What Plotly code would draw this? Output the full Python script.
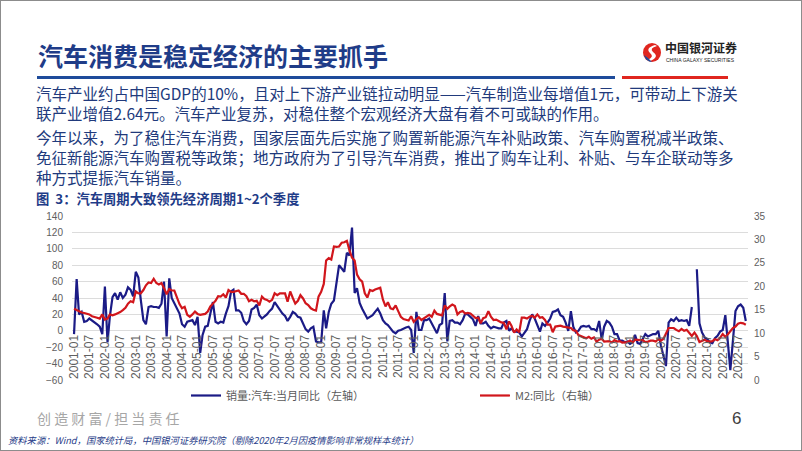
import pandas as pd
import plotly.graph_objects as go

W, H = 802, 451

# ---------------- data ----------------
months = [d.strftime("%Y-%m") for d in pd.date_range("2001-01-01", "2022-10-01", freq="MS")]

# 销量:汽车:当月同比 (%), 2001-01 .. 2022-10  (None = no value)
sales_yoy = [
    -4, 63, 20, 23, 11, 12, 15, 13, 11, 8, 5, -4,          # 2001
    54, -14, 18, 41, 46, 38, 47, 40, 44, 53, 50, 42,       # 2002
    72, 65, 38, 13, 8, 29, 30, 29, 29, 28, 33, 60,         # 2003
    -7, 64, 40, 33, 27, 21, 8, 5, 11, 12, 13, 7,           # 2004
    17, -27, -5, 5, 6, 21, 35, 11, 9, 11, 10, 21,          # 2005
    30, 48, 50, 25, 25, 22, 12, 8, 12, 26, 28, 32,         # 2006
    19, 15, 17, 20, 24, 27, 35, 30, 25, 21, 18, 12,        # 2007
    17, 23, 21, 17, 16, 9, 2, -1, 3, 5, -13, -14,          # 2008
    -14, 25, 3, 23, 33, 37, 60, 80, 76, 72, 95, 92,        # 2009
    126, 46, 52, 34, 27, 21, 15, 17, 19, 23, 27, 21,       # 2010
    13, 9, 7, 3, -1, -3, 0, 1, 3, 4, 5, 1,                 # 2011
    -27, 23, 1, 1, 13, 13, 15, 9, 4, -3, 7, 9,             # 2012
    46, -13, 12, 13, 10, 10, 8, 13, 21, 20, 17, 14,        # 2013
    6, 18, 9, 9, 11, 6, 3, 5, 4, 3, 3, 10,                 # 2014
    12, 0, 3, -1, -1, -2, -7, -3, 2, 12, 20, 15,           # 2015
    8, -1, 9, 6, 10, 15, 23, 24, 26, 19, 17, 10,           # 2016
    0, 24, 5, -2, 0, 5, 6, 5, 6, 2, 2, 0,                  # 2017
    12, -11, 5, 12, 10, 5, -4, -4, -12, -12, -14, -13,     # 2018
    -16, -14, -5, -15, -16, -10, -4, -7, -5, -4, -4, 0,    # 2019
    -18, None, -43, 10, 14, 12, 16, 12, 13, 12, 13, 6,     # 2020
    29, None, 75, 9, -2, -8, -10, -14, -15, -9, -6, -1,    # 2021
    1, 19, -12, -48, -13, 24, 30, 32, 28, 12,              # 2022
]
# sample removed from the sales series (epidemic effect)
excluded_months = ["2020-02"]

# M2:同比 (%), 2001-01 .. 2022-10
m2_yoy = [
    15.2, 14.9, 14.7, 14.4, 14.3, 14.1, 14.0, 13.6, 13.5, 13.3, 13.1, 14.0,
    12.9, 13.1, 14.0, 13.8, 14.0, 14.2, 14.5, 14.9, 15.4, 16.3, 16.8, 16.6,
    18.9, 18.5, 18.5, 19.2, 20.2, 20.8, 20.7, 21.6, 20.7, 20.4, 20.7, 19.6,
    18.3, 19.4, 19.1, 19.1, 17.5, 16.2, 15.3, 15.6, 13.9, 13.5, 14.0, 14.6,
    14.1, 13.9, 14.0, 14.1, 14.6, 15.7, 16.3, 16.9, 17.9, 17.8, 18.3, 17.6,
    19.2, 18.8, 18.8, 18.9, 19.1, 18.4, 18.4, 17.9, 16.8, 17.1, 16.8, 16.9,
    15.9, 17.8, 17.3, 17.1, 16.7, 17.1, 18.5, 18.1, 18.5, 18.5, 18.5, 16.7,
    18.9, 17.5, 16.3, 16.9, 18.1, 17.4, 16.4, 16.0, 15.3, 15.0, 14.8, 17.8,
    18.8, 20.5, 25.5, 26.0, 25.7, 28.5, 28.4, 28.5, 29.3, 29.4, 29.7, 27.7,
    26.1, 25.5, 22.5, 21.5, 21.0, 18.5, 17.6, 19.2, 19.0, 19.3, 19.5, 19.7,
    17.2, 15.7, 16.6, 15.3, 15.1, 15.9, 14.7, 13.5, 13.0, 12.9, 12.7, 13.6,
    12.4, 13.0, 13.4, 12.8, 13.2, 13.6, 13.9, 13.5, 14.8, 14.1, 13.9, 13.8,
    15.9, 15.2, 15.7, 16.1, 15.8, 14.0, 14.5, 14.7, 14.2, 14.3, 14.2, 13.6,
    13.2, 13.3, 12.1, 13.2, 13.4, 14.7, 13.5, 12.8, 12.9, 12.6, 12.3, 12.2,
    10.8, 12.5, 11.6, 10.1, 10.8, 10.2, 13.3, 13.3, 13.1, 13.5, 13.7, 13.3,
    14.0, 13.3, 13.4, 12.8, 11.8, 11.8, 10.2, 11.4, 11.5, 11.6, 11.4, 11.3,
    11.3, 11.1, 10.6, 10.5, 9.6, 9.4, 9.2, 8.9, 9.2, 8.8, 9.1, 8.2,
    8.6, 8.8, 8.2, 8.3, 8.3, 8.0, 8.5, 8.2, 8.3, 8.0, 8.0, 8.1,
    8.4, 8.0, 8.6, 8.5, 8.5, 8.5, 8.1, 8.2, 8.4, 8.4, 8.2, 8.7,
    8.4, 8.8, 10.1, 11.1, 11.1, 11.1, 10.7, 10.4, 10.9, 10.5, 10.7, 10.1,
    9.4, 10.1, 9.4, 8.1, 8.3, 8.6, 8.3, 8.2, 8.3, 8.7, 8.5, 9.0,
    9.8, 9.2, 9.7, 10.5, 11.1, 11.4, 12.0, 12.2, 12.1, 11.8,
]

series_names = ["销量:汽车:当月同比（左轴）", "M2:同比（右轴）"]
left_ticks = [-60, -40, -20, 0, 20, 40, 60, 80, 100, 120, 140]
right_ticks = [0, 5, 10, 15, 20, 25, 30, 35]

slide_title = "汽车消费是稳定经济的主要抓手"
paragraph_1 = [
    "汽车产业约占中国GDP的10%，且对上下游产业链拉动明显——汽车制造业每增值1元，可带动上下游关",
    "联产业增值2.64元。汽车产业复苏，对稳住整个宏观经济大盘有着不可或缺的作用。",
]
paragraph_2 = [
    "今年以来，为了稳住汽车消费，国家层面先后实施了购置新能源汽车补贴政策、汽车购置税减半政策、",
    "免征新能源汽车购置税等政策；地方政府为了引导汽车消费，推出了购车让利、补贴、与车企联动等多",
    "种方式提振汽车销量。",
]
chart_title = "图  3：汽车周期大致领先经济周期1~2个季度"
source_text = "资料来源：Wind，国家统计局，中国银河证券研究院（剔除2020年2月因疫情影响非常规样本统计）"
slogan = "创 造 财 富 / 担 当 责 任"
page_no = "6"

# ---------------- helpers ----------------
def px(x):
    return x / W

def py(y):
    return 1 - y / H

sales_x = [m for m in months if m not in excluded_months]
sales_y = [v for m, v in zip(months, sales_yoy) if m not in excluded_months]

CJK = "Noto Sans CJK SC"
BLUE_LINE = "#1B1B86"
RED_LINE = "#D1161C"
NAVY = "#1F3C88"

fig = go.Figure()
fig.add_trace(go.Scatter(x=sales_x, y=sales_y, name=series_names[0], mode="lines",
                         line=dict(color=BLUE_LINE, width=2.2), connectgaps=False,
                         xaxis="x", yaxis="y"))
fig.add_trace(go.Scatter(x=months, y=m2_yoy, name=series_names[1], mode="lines",
                         line=dict(color=RED_LINE, width=2.2),
                         xaxis="x", yaxis="y2"))

dom_y = [py(380), py(216)]
fig.update_layout(
    template="none",
    width=W, height=H,
    margin=dict(l=0, r=0, t=0, b=0, pad=0),
    paper_bgcolor="white", plot_bgcolor="rgba(0,0,0,0)",
    font=dict(family=CJK, color="#595959"),
    xaxis=dict(
        type="date", domain=[px(72), px(748)],
        range=["2000-12-08", "2022-10-27"],
        tick0="2001-01-01", dtick="M6", tickformat="%Y-%m",
        tickangle=-90, tickfont=dict(size=12, color="#606060", family="Liberation Sans"),
        anchor="free", position=py(331.5),
        showgrid=False, showline=False, zeroline=False, ticks="", automargin=False,
    ),
    yaxis=dict(
        domain=dom_y, range=[-60, 140], tickvals=left_ticks,
        gridcolor="#DCDCDC", gridwidth=1, zeroline=False, showline=False, ticks="",
        tickfont=dict(size=10, color="#606060", family="Liberation Sans"),
        ticklabelstandoff=8, automargin=False,
    ),
    yaxis2=dict(
        domain=dom_y, range=[0, 35], tickvals=right_ticks, overlaying="y", side="right",
        showgrid=False, zeroline=False, showline=False, ticks="",
        tickfont=dict(size=10, color="#606060", family="Liberation Sans"),
        ticklabelstandoff=5, automargin=False,
    ),
    legend=dict(orientation="h", x=px(186), y=py(381), xanchor="left", yanchor="top",
                font=dict(size=11, color="#595959", family=CJK),
                entrywidth=244, entrywidthmode="pixels", bgcolor="rgba(0,0,0,0)"),
    showlegend=True,
)

shapes = [
    # slide frame
    dict(type="rect", xref="paper", yref="paper", x0=0, y0=0, x1=1, y1=1,
         line=dict(color="#8C8C8C", width=2), layer="above"),
    # title underline (blue + red)
    dict(type="line", xref="paper", yref="paper", x0=px(37), x1=px(615), y0=py(77.5), y1=py(77.5),
         line=dict(color="#1E4B9B", width=3)),
    dict(type="line", xref="paper", yref="paper", x0=px(622), x1=px(728), y0=py(77.5), y1=py(77.5),
         line=dict(color="#E0261F", width=3)),
    # logo mark
    dict(type="circle", xref="paper", yref="paper", x0=px(643), x1=px(661), y0=py(62), y1=py(43),
         fillcolor="#E0261F", line=dict(width=0)),
    dict(type="path", xref="paper", yref="paper",
         path=f"M {px(655)} {py(45)} Q {px(645)} {py(48)} {px(650)} {py(53)} Q {px(655)} {py(57)} {px(647)} {py(60)} "
              f"L {px(650)} {py(61)} Q {px(660)} {py(57)} {px(653)} {py(52)} Q {px(649)} {py(48)} {px(657)} {py(46)} Z",
         fillcolor="white", line=dict(width=0)),
    dict(type="path", xref="paper", yref="paper",
         path=f"M {px(644)} {py(55)} Q {px(646)} {py(62)} {px(652)} {py(62)} L {px(648)} {py(58)} Z",
         fillcolor="#1E4B9B", line=dict(width=0)),
]

ann = []
ann.append(dict(text=f"<b>{slide_title}</b>", x=px(36), y=py(55), xanchor="left", yanchor="middle",
                font=dict(size=25, color=NAVY, family=CJK)))
ann.append(dict(text="<b>中国银河证券</b>", x=px(663), y=py(47.5), xanchor="left", yanchor="middle",
                font=dict(size=12, color="#222222", family=CJK)))
ann.append(dict(text="CHINA GALAXY SECURITIES", x=px(664), y=py(60), xanchor="left", yanchor="middle",
                font=dict(size=5, color="#222222", family="Liberation Sans")))
ann.append(dict(text="<br>".join(paragraph_1), x=px(34), y=py(102.5), xanchor="left", yanchor="middle",
                align="left", font=dict(size=15.5, color="#213A7C", family=CJK)))
ann.append(dict(text="<br>".join(paragraph_2), x=px(34), y=py(157), xanchor="left", yanchor="middle",
                align="left", font=dict(size=15.5, color="#213A7C", family=CJK)))
ann.append(dict(text=f"<b>{chart_title}</b>", x=px(34), y=py(199), xanchor="left", yanchor="middle",
                font=dict(size=13.3, color=NAVY, family=CJK)))
ann.append(dict(text=slogan, x=px(35), y=py(418), xanchor="left", yanchor="middle",
                font=dict(size=14, color="#A6A6A6", family=CJK)))
ann.append(dict(text=page_no, x=px(736), y=py(418), xanchor="center", yanchor="middle",
                font=dict(size=17, color="#404040", family="Liberation Sans")))
ann.append(dict(text=f"<i>{source_text}</i>", x=px(6), y=py(440), xanchor="left", yanchor="middle",
                font=dict(size=9.3, color=NAVY, family=CJK)))
for a in ann:
    a.update(xref="paper", yref="paper", showarrow=False)

fig.update_layout(shapes=shapes, annotations=ann)
fig.write_html("out.html")
